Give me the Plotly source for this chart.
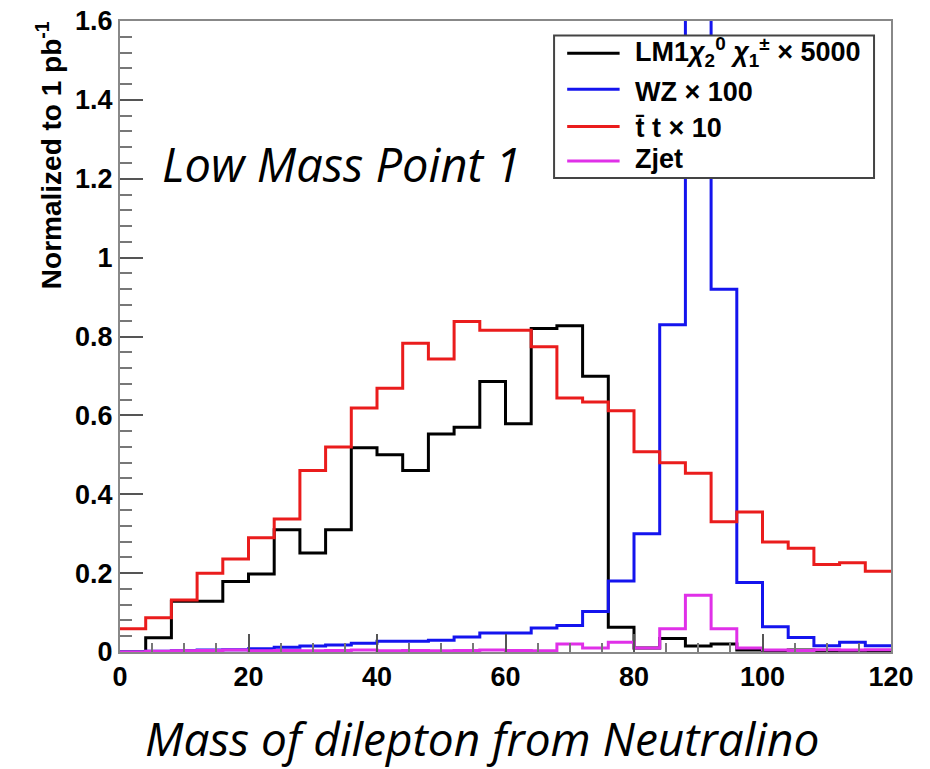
import numpy as np
import plotly.graph_objects as go

# 4 GeV bins from 0 to 120 GeV
bin_edges = np.arange(0, 124, 4)

# Normalized dilepton mass distributions (per bin, scaled as in legend)
lm1 = [0.0, 0.036, 0.129, 0.129, 0.179, 0.198, 0.31, 0.251, 0.31, 0.518,
       0.50, 0.46, 0.553, 0.57, 0.686, 0.579, 0.82, 0.827, 0.699, 0.063,
       0.01, 0.034, 0.015, 0.02, 0.005, 0.003, 0.005, 0.002, 0.003, 0.002]
wz = [0.0, 0.002, 0.003, 0.005, 0.006, 0.008, 0.012, 0.015, 0.018, 0.022,
      0.027, 0.027, 0.03, 0.038, 0.048, 0.048, 0.061, 0.067, 0.103, 0.18,
      0.30, 0.83, 2.9, 0.92, 0.176, 0.064, 0.037, 0.016, 0.025, 0.016]
ttbar = [0.059, 0.087, 0.132, 0.20, 0.236, 0.29, 0.337, 0.46, 0.52, 0.619,
         0.669, 0.783, 0.743, 0.838, 0.816, 0.816, 0.774, 0.644, 0.634, 0.612,
         0.508, 0.48, 0.453, 0.33, 0.355, 0.279, 0.263, 0.222, 0.226, 0.205]
zjet = [0.0, 0.002, 0.003, 0.004, 0.005, 0.003, 0.004, 0.003, 0.004, 0.005,
        0.003, 0.004, 0.003, 0.004, 0.005, 0.004, 0.003, 0.02, 0.01, 0.025,
        0.01, 0.059, 0.144, 0.059, 0.01, 0.005, 0.004, 0.006, 0.005, 0.006]

series_names = [
    "LM1<i>χ</i><sub>2</sub><sup>0</sup> <i>χ</i><sub>1</sub><sup>±</sup> × 5000",
    "WZ × 100",
    "t\u0304 t × 10",
    "Zjet",
]
series_values = [lm1, wz, ttbar, zjet]
series_colors = ["#000000", "#1414ee", "#ea1c1c", "#e030e8"]

fig = go.Figure()
for name, vals, color in zip(series_names, series_values, series_colors):
    # step outline: each value held across its bin, closed at the last edge
    xs = list(bin_edges)
    ys = list(vals) + [vals[-1]]
    fig.add_trace(go.Scatter(
        x=xs, y=ys, mode="lines", name=name, showlegend=False,
        line=dict(shape="hv", color=color, width=3),
    ))

# Boxed legend in the upper right, drawn above the histograms
legend_box = dict(x0=0.563, x1=0.978, y0=0.751, y1=0.977)
legend_line_rows = [0.949, 0.892, 0.833, 0.778]
legend_text_rows = [0.951, 0.887, 0.831, 0.781]
legend_font = dict(family="Liberation Sans", size=27, color="black", weight="bold")

shapes = [dict(type="rect", xref="paper", yref="paper", layer="above",
               fillcolor="white", line=dict(color="#444444", width=2), **legend_box)]
annotations = []
for name, color, ly, ty in zip(series_names, series_colors, legend_line_rows, legend_text_rows):
    shapes.append(dict(type="line", xref="paper", yref="paper", layer="above",
                       x0=0.580, x1=0.648, y0=ly, y1=ly,
                       line=dict(color=color, width=3)))
    annotations.append(dict(text=name, xref="paper", yref="paper", x=0.666, y=ty,
                            xanchor="left", yanchor="middle", showarrow=False,
                            font=legend_font))

tick_font = dict(family="Liberation Sans", size=27, color="black", weight="bold")
frame_color = "#888888"

annotations += [
    dict(text="Normalized to 1 pb<sup>-1</sup>", textangle=-90,
         xref="paper", yref="paper", x=-0.092, y=1.003,
         xanchor="center", yanchor="top", showarrow=False,
         font=dict(family="Liberation Sans", size=28, color="black", weight="bold")),
    dict(text="<i>Low Mass Point 1</i>", xref="x", yref="y", x=6.3, y=1.237,
         xanchor="left", yanchor="middle", showarrow=False,
         font=dict(family="Open Sans", size=47, color="black")),
    dict(text="<i>Mass of dilepton from Neutralino</i>", xref="paper", yref="paper",
         x=0.4695, y=-0.1355, xanchor="center", yanchor="middle", showarrow=False,
         font=dict(family="Open Sans", size=46, color="black")),
]

fig.update_layout(
    width=930, height=769,
    margin=dict(l=120, r=39, t=21, b=117, autoexpand=False),
    paper_bgcolor="white", plot_bgcolor="white",
    showlegend=False,
    xaxis=dict(
        range=[0, 120], showgrid=False, zeroline=False, automargin=False,
        showline=True, linecolor=frame_color, linewidth=2, mirror=True,
        ticks="inside", tickcolor="#555555", ticklen=18, tickwidth=1.5,
        tick0=0, dtick=20, tickfont=tick_font,
        minor=dict(ticks="inside", dtick=5, ticklen=9, tickcolor="#777777", showgrid=False),
    ),
    yaxis=dict(
        range=[0, 1.6], showgrid=False, zeroline=False, automargin=False,
        showline=True, linecolor=frame_color, linewidth=2, mirror=True,
        ticks="inside", tickcolor="#555555", ticklen=23, tickwidth=1.5,
        tick0=0, dtick=0.2, tickfont=tick_font,
        minor=dict(ticks="inside", dtick=0.04, ticklen=12, tickcolor="#777777", showgrid=False),
    ),
    shapes=shapes,
    annotations=annotations,
)

fig.write_html("out.html")
